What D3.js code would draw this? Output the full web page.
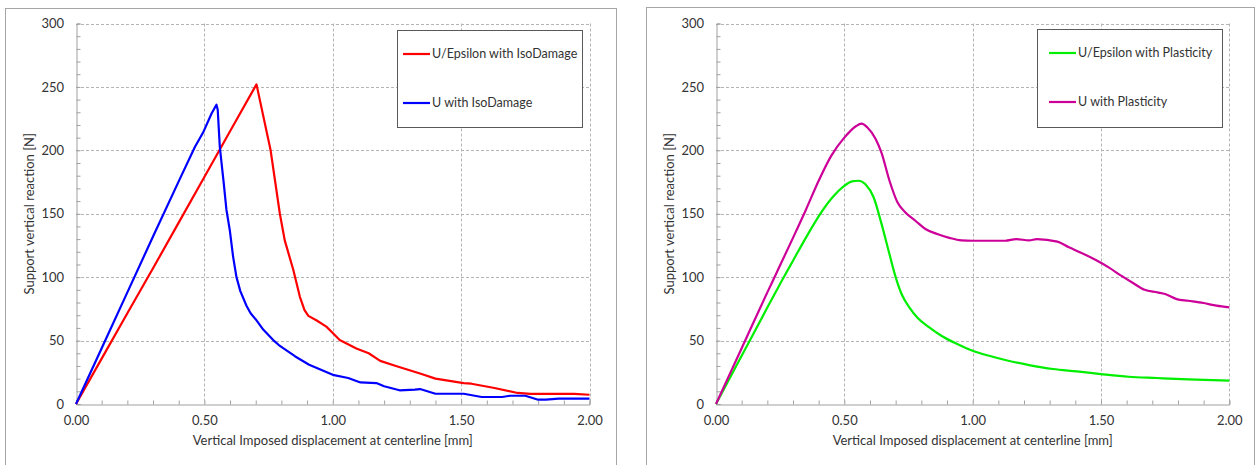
<!DOCTYPE html>
<html><head><meta charset="utf-8">
<script src="https://cdn.jsdelivr.net/npm/d3@7"></script>
<style>
html,body{margin:0;padding:0;background:#fff;}
svg text{font-family:Lato,"Open Sans",sans-serif;fill:#333;}
</style></head>
<body><svg id="c" width="1256" height="465"></svg>
<script>
// ---- data ----
const xTicks = [0, 0.5, 1.0, 1.5, 2.0];
const yTicks = [0, 50, 100, 150, 200, 250, 300];
const xTitle = "Vertical Imposed displacement at centerline [mm]";
const yTitle = "Support vertical reaction [N]";

const seriesNamesLeft = ["U/Epsilon with IsoDamage", "U with IsoDamage"];
const seriesNamesRight = ["U/Epsilon with Plasticity", "U with Plasticity"];

// U/Epsilon with IsoDamage (red)
const redX = [0,0.10,0.20,0.30,0.40,0.50,0.60,0.703,0.758,0.794,0.813,0.846,0.872,0.89,0.905,0.936,0.975,1.00,1.027,1.092,1.14,1.185,1.246,1.34,1.40,1.51,1.54,1.63,1.72,1.77,1.94,2.00];
const redY = [0,35.8,71.6,107,143,179,215,252,200,150,129,106,84.5,74,69.5,66,61,56,50.4,43.8,40,34,30,24,20,16.5,16,12.6,8.7,8,8,7.3];
// U with IsoDamage (blue)
const blueX = [0,0.10,0.20,0.30,0.405,0.463,0.495,0.528,0.547,0.552,0.56,0.575,0.586,0.599,0.612,0.625,0.64,0.664,0.68,0.703,0.73,0.768,0.79,0.807,0.854,0.908,0.938,1.00,1.06,1.108,1.17,1.20,1.26,1.32,1.34,1.40,1.51,1.58,1.66,1.69,1.75,1.80,1.83,1.88,2.00];
const blueY = [0,44,88,132,177.7,202.6,214,229,236,232,203,175,153,137,116,100,89,77.5,71.5,66,58.5,50.4,46.5,44,37.5,31,28.3,23,20.5,17,16.5,14,10.8,11.3,11.8,8.1,8.1,5.5,5.5,6.5,6.5,3.4,3.4,4.2,4.2];
// U/Epsilon with Plasticity (green)
const greenX = [0,0.10,0.20,0.264,0.30,0.35,0.40,0.45,0.50,0.53,0.555,0.583,0.614,0.645,0.676,0.70,0.723,0.754,0.785,0.831,0.878,0.94,1.00,1.064,1.127,1.22,1.313,1.406,1.50,1.608,1.717,1.84,2.00];
const greenY = [0,38,76,100,113,131,148,162,172,175.5,176,173,163,142,118,100,86.7,76,68,60.4,53.8,47.3,42,38,34.7,30.7,27.6,25.7,23.6,21.5,20.5,19.4,18.4];
// U with Plasticity (magenta)
const magX = [0,0.10,0.20,0.228,0.30,0.35,0.40,0.45,0.50,0.545,0.567,0.59,0.622,0.645,0.676,0.707,0.738,0.777,0.816,0.862,0.909,0.956,1.00,1.127,1.17,1.22,1.25,1.33,1.375,1.42,1.48,1.53,1.58,1.62,1.67,1.72,1.75,1.795,1.84,1.90,1.95,2.00];
const magY = [0,44,88,100,131,153,176,196,210,219,221,218,209,198,176,159,151,144.5,138,134,131,129,128.7,128.7,130,129,130,128,123.5,119.5,113.5,107.7,101,96,90,88,86.7,82.7,81.4,79.6,77.5,76.2];

const colors = {red:"#ff0000", blue:"#0000ff", green:"#00ee00", mag:"#cc0099"};

// ---- drawing ----
const svg = d3.select("#c");

function zip(xs, ys){ return xs.map((x,i)=>[x, ys[i]]); }

function chart(cfg){
  const g = svg.append("g");
  g.append("rect").attr("x",cfg.frame[0]+0.5).attr("y",cfg.frame[1]+0.5)
    .attr("width",cfg.frame[2]).attr("height",cfg.frame[3])
    .attr("fill","#fff").attr("stroke","#a6a6a6").attr("stroke-width",1);

  const x = d3.scaleLinear().domain([0,2]).range([cfg.x0, cfg.x1]);
  const y = d3.scaleLinear().domain([0,300]).range([404, 23.5]);

  g.append("g").selectAll("line").data(yTicks.filter(v=>v>0)).join("line")
    .attr("x1",cfg.x0).attr("x2",cfg.x1)
    .attr("y1",d=>Math.round(y(d))+0.5).attr("y2",d=>Math.round(y(d))+0.5)
    .attr("stroke","#b4b4b4").attr("stroke-dasharray","3,2");
  g.append("g").selectAll("line").data(xTicks.filter(v=>v>0)).join("line")
    .attr("y1",y(300)).attr("y2",y(0))
    .attr("x1",d=>Math.round(x(d))+0.5).attr("x2",d=>Math.round(x(d))+0.5)
    .attr("stroke","#b4b4b4").attr("stroke-dasharray","3,2");

  const xAxis = d3.axisBottom(x).tickValues(d3.range(0,2.0001,0.1)).tickSize(-4).tickFormat("");
  const gx = g.append("g").attr("transform",`translate(0,${Math.round(y(0))+0.5})`).call(xAxis);
  const yAxis = d3.axisLeft(y).tickValues(d3.range(0,301,10)).tickSize(-4).tickFormat("");
  const gy = g.append("g").attr("transform",`translate(${Math.round(x(0))+0.5},0)`).call(yAxis);
  [gx,gy].forEach(a=>{ a.selectAll("path,line").attr("stroke","#a0a0a0"); });

  const xl = d3.axisBottom(x).tickValues(xTicks).tickSize(0).tickPadding(12).tickFormat(d3.format(".2f"));
  const gxl = g.append("g").attr("transform",`translate(0,${y(0)})`).call(xl);
  gxl.select(".domain").remove();
  gxl.selectAll("text").attr("font-size",13).attr("font-family","Lato,'Open Sans',sans-serif").attr("fill","#333");
  const yl = d3.axisLeft(y).tickValues(yTicks).tickSize(0).tickPadding(12).tickFormat(d3.format("d"));
  const gyl = g.append("g").attr("transform",`translate(${x(0)},0)`).call(yl);
  gyl.select(".domain").remove();
  gyl.selectAll("text").attr("font-size",13).attr("font-family","Lato,'Open Sans',sans-serif").attr("fill","#333");

  g.append("text").attr("x",(cfg.x0+cfg.x1)/2).attr("y",445).attr("text-anchor","middle")
    .attr("font-size",13).text(xTitle);
  g.append("text").attr("transform",`translate(${cfg.x0-42},${(23.5+404)/2}) rotate(-90)`)
    .attr("text-anchor","middle").attr("font-size",13).text(yTitle);

  const line = d3.line().curve(cfg.curve).x(d=>x(d[0])).y(d=>y(d[1]));
  cfg.series.forEach(s=>{
    g.append("path").datum(s.data).attr("d",line).attr("fill","none")
      .attr("stroke",s.color).attr("stroke-width",2.2).attr("stroke-linejoin","round");
  });

  const L = cfg.legend;
  g.append("rect").attr("x",L.x+0.5).attr("y",L.y+0.5).attr("width",L.w).attr("height",L.h)
    .attr("fill","#fff").attr("stroke","#595959").attr("stroke-width",1);
  cfg.series.forEach((s,i)=>{
    const yy = L.y + 24 + i*49;
    g.append("line").attr("x1",L.lx).attr("x2",L.lx+27).attr("y1",yy).attr("y2",yy)
      .attr("stroke",s.color).attr("stroke-width",2.2);
    g.append("text").attr("x",L.lx+29).attr("y",yy).attr("dy","0.35em")
      .attr("font-size",12.5).text(s.name);
  });
}

chart({
  frame:[5,8,611,470], x0:76, x1:589.5, curve:d3.curveLinear,
  legend:{x:397,y:30,w:185,h:97,lx:403},
  series:[
    {name:seriesNamesLeft[0], color:colors.red, data:zip(redX,redY)},
    {name:seriesNamesLeft[1], color:colors.blue, data:zip(blueX,blueY)}
  ]
});
chart({
  frame:[646,7,608,470], x0:716, x1:1229.3, curve:d3.curveMonotoneX,
  legend:{x:1037,y:29,w:185,h:98,lx:1049},
  series:[
    {name:seriesNamesRight[0], color:colors.green, data:zip(greenX,greenY)},
    {name:seriesNamesRight[1], color:colors.mag, data:zip(magX,magY)}
  ]
});
</script></body></html>
